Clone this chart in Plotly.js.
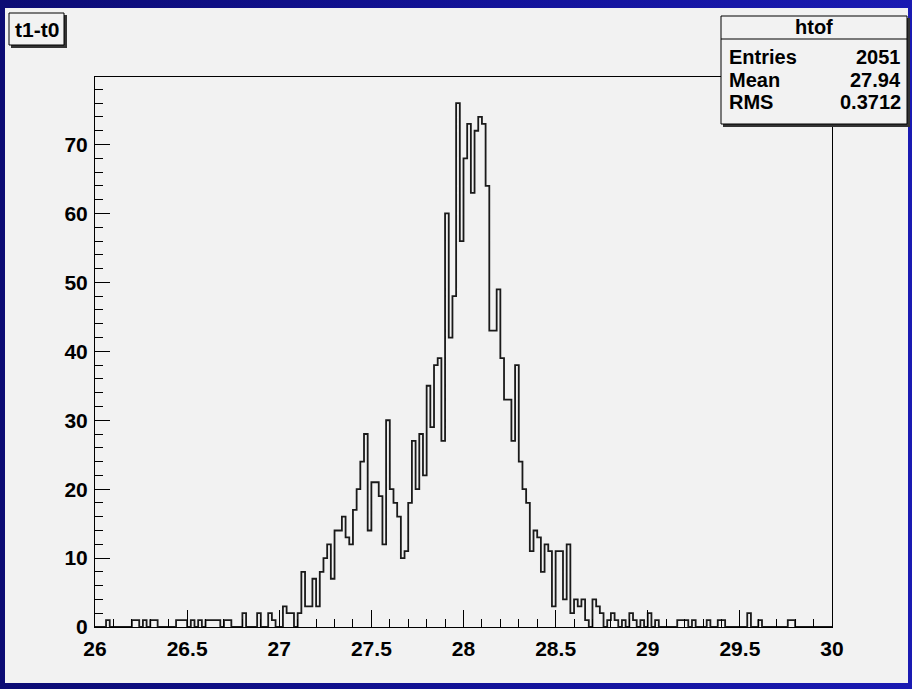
<!DOCTYPE html>
<html>
<head>
<meta charset="utf-8">
<script src="https://cdn.plot.ly/plotly-3.0.1.min.js"></script>
<style>
  html, body { margin: 0; padding: 0; }
  body {
    width: 912px; height: 689px; overflow: hidden; position: relative;
    background: linear-gradient(90deg, #0c0c74 0%, #13139a 55%, #1a1ab2 100%);
  }
  #canvas { position: absolute; left: 5px; top: 8px; width: 903px; height: 675px; background: #f2f2f2; }
  #chart { position: absolute; left: 0; top: 0; width: 912px; height: 689px; }
</style>
</head>
<body>
<div id="canvas"></div>
<div id="chart"></div>
<script>
// htof: t1-t0 time-of-flight histogram, 200 bins of 0.02 between 26 and 30
const xMin = 26;
const xMax = 30;
const binWidth = 0.02;
const counts = [
  0,0,0,1,0,0,0,0,0,0,
  1,1,0,1,0,1,1,0,0,0,
  0,0,1,1,1,0,1,0,1,0,
  1,1,1,1,0,1,1,0,0,0,
  2,0,0,0,2,0,0,2,1,0,
  0,3,2,2,0,2,8,3,3,7,
  3,8,10,12,7,14,14,16,13,12,
  17,20,24,28,14,21,21,19,12,30,
  20,18,16,10,11,18,27,20,28,22,
  35,29,38,39,27,60,42,48,76,56,
  68,73,63,72,74,73,64,43,43,49,
  39,33,33,27,38,24,20,18,11,14,
  13,8,12,11,3,11,11,4,12,2,
  4,3,4,1,0,4,3,2,0,1,
  2,1,0,1,0,2,1,0,1,0,
  2,0,1,0,0,0,0,0,1,1,
  1,0,1,0,0,0,1,0,0,1,
  1,0,0,0,0,0,0,2,0,0,
  1,0,0,0,0,0,0,0,1,1,
  0,0,0,0,0,0,0,0,0,0
];
const xTickVals = [26, 26.5, 27, 27.5, 28, 28.5, 29, 29.5, 30];
const xTickText = ['26', '26.5', '27', '27.5', '28', '28.5', '29', '29.5', '30'];
const yTickVals = [0, 10, 20, 30, 40, 50, 60, 70];
const histName = 'htof';
const histTitle = 't1-t0';
const statLabels = ['Entries', 'Mean', 'RMS'];
const statValues = ['2051', '27.94', '0.3712'];

// outline of the histogram as a step line through the bin edges
const stepX = [xMin];
const stepY = [0];
counts.forEach((c, i) => { stepX.push(xMin + i * binWidth); stepY.push(c); });
stepX.push(xMin + counts.length * binWidth); stepY.push(counts[counts.length - 1]);
stepX.push(xMin + counts.length * binWidth); stepY.push(0);

const yMax = Math.max(...counts) * 1.05;

// frame geometry in pixels
const L = 95, T = 77, W = 737, H = 550;
const fx = p => (p - L) / W;
const fy = p => (T + H - p) / H;

const font = { family: 'Liberation Sans, Arial, sans-serif', color: '#000', weight: 'bold' };

const shapes = [
  // title box with shadow
  { type: 'rect', xref: 'paper', yref: 'paper', x0: fx(11), x1: fx(67), y0: fy(48), y1: fy(15),
    fillcolor: '#333', line: { width: 0 } },
  { type: 'rect', xref: 'paper', yref: 'paper', x0: fx(9), x1: fx(64), y0: fy(45), y1: fy(13),
    fillcolor: '#f2f2f2', line: { color: '#000', width: 1 } },
  // statistics box with shadow
  { type: 'rect', xref: 'paper', yref: 'paper', x0: fx(723), x1: fx(910), y0: fy(127), y1: fy(18),
    fillcolor: '#333', line: { width: 0 } },
  { type: 'rect', xref: 'paper', yref: 'paper', x0: fx(721), x1: fx(907), y0: fy(124), y1: fy(16),
    fillcolor: '#f2f2f2', line: { color: '#000', width: 1 } },
  { type: 'line', xref: 'paper', yref: 'paper', x0: fx(721), x1: fx(907), y0: fy(39), y1: fy(39),
    line: { color: '#000', width: 1 } }
];

const annotations = [
  { xref: 'paper', yref: 'paper', x: fx(36.5), y: fy(29), text: histTitle, showarrow: false,
    xanchor: 'center', yanchor: 'middle', font: Object.assign({ size: 21 }, font) },
  { xref: 'paper', yref: 'paper', x: fx(814), y: fy(27.5), text: histName, showarrow: false,
    xanchor: 'center', yanchor: 'middle', font: Object.assign({ size: 20 }, font) }
];
const rowY = [57, 80, 102];
statLabels.forEach((lab, k) => {
  annotations.push({ xref: 'paper', yref: 'paper', x: fx(727), y: fy(rowY[k]), text: lab, showarrow: false,
    xanchor: 'left', yanchor: 'middle', font: Object.assign({ size: 20 }, font) });
  annotations.push({ xref: 'paper', yref: 'paper', x: fx(903), y: fy(rowY[k]), text: statValues[k], showarrow: false,
    xanchor: 'right', yanchor: 'middle', font: Object.assign({ size: 20 }, font) });
});

const trace = {
  type: 'scatter', mode: 'lines', x: stepX, y: stepY,
  line: { shape: 'hv', color: '#1a1a1a', width: 1.8 },
  hoverinfo: 'skip', showlegend: false
};

const layout = {
  width: 912, height: 689,
  margin: { l: L, r: 912 - L - W, t: T, b: 689 - T - H, pad: 0 },
  paper_bgcolor: 'rgba(0,0,0,0)',
  plot_bgcolor: '#f2f2f2',
  showlegend: false,
  xaxis: {
    range: [xMin, xMax], tickmode: 'array', tickvals: xTickVals, ticktext: xTickText,
    ticks: 'inside', ticklen: 17, tickwidth: 1, tickcolor: '#000', ticklabelstandoff: 3,
    minor: { dtick: 0.1, tick0: xMin, ticks: 'inside', ticklen: 8, tickcolor: '#000', tickwidth: 1, showgrid: false },
    showgrid: false, zeroline: false, showline: true, linecolor: '#000', linewidth: 1, mirror: true,
    tickfont: Object.assign({ size: 21 }, font)
  },
  yaxis: {
    range: [0, yMax], tickmode: 'array', tickvals: yTickVals,
    ticks: 'inside', ticklen: 15, tickwidth: 1, tickcolor: '#000', ticklabelstandoff: 2,
    minor: { dtick: 2, tick0: 0, ticks: 'inside', ticklen: 8, tickcolor: '#000', tickwidth: 1, showgrid: false },
    showgrid: false, zeroline: false, showline: true, linecolor: '#000', linewidth: 1, mirror: true,
    tickfont: Object.assign({ size: 21 }, font)
  },
  shapes: shapes,
  annotations: annotations
};

Plotly.newPlot('chart', [trace], layout, { staticPlot: true, displayModeBar: false });
</script>
</body>
</html>
